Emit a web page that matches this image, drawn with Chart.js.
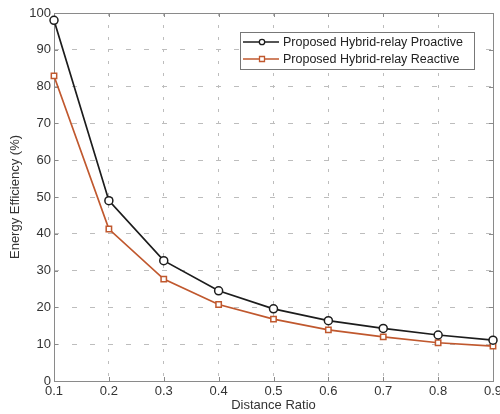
<!DOCTYPE html>
<html>
<head>
<meta charset="utf-8">
<script src="https://cdn.jsdelivr.net/npm/chart.js@4.4.1/dist/chart.umd.min.js"></script>
<style>
  html, body { margin: 0; padding: 0; background: #fff; }
  #wrap { width: 500px; height: 414px; }
</style>
</head>
<body>
<div id="wrap"><canvas id="c" width="500" height="414"></canvas></div>
<script>
// values
const distanceRatio = [0.1, 0.2, 0.3, 0.4, 0.5, 0.6, 0.7, 0.8, 0.9];
const proactive = [98.0, 49.0, 32.7, 24.5, 19.6, 16.4, 14.3, 12.5, 11.1];
const reactive = [82.9, 41.3, 27.7, 20.8, 16.8, 13.9, 12.0, 10.4, 9.5];
const seriesNames = ["Proposed Hybrid-relay Proactive", "Proposed Hybrid-relay Reactive"];
const yTicks = [0, 10, 20, 30, 40, 50, 60, 70, 80, 90, 100];

const FONT = "'Liberation Sans', Arial, sans-serif";
const AXIS_GRAY = "#8a8a8a";

function pts(ys) {
    return distanceRatio.map((x, i) => ({ x: x, y: ys[i] }));
}

// frame box + inward tick marks, like the MATLAB axes
const framePlugin = {
    id: "frame",
    beforeDatasetsDraw(chart) {
        const { ctx, chartArea: a, scales } = chart;
        ctx.save();
        ctx.strokeStyle = AXIS_GRAY;
        ctx.lineWidth = 1;
        ctx.strokeRect(a.left + 0.5, a.top + 0.5, a.right - a.left, a.bottom - a.top);
        ctx.beginPath();
        distanceRatio.forEach(v => {
            const px = Math.round(scales.x.getPixelForValue(v)) + 0.5;
            ctx.moveTo(px, a.bottom); ctx.lineTo(px, a.bottom - 4);
            ctx.moveTo(px, a.top); ctx.lineTo(px, a.top + 4);
        });
        yTicks.forEach(v => {
            const py = Math.round(scales.y.getPixelForValue(v)) + 0.5;
            ctx.moveTo(a.left, py); ctx.lineTo(a.left + 4, py);
            ctx.moveTo(a.right, py); ctx.lineTo(a.right - 4, py);
        });
        ctx.stroke();
        ctx.restore();
    }
};

// boxed legend in the upper right
const boxLegend = {
    id: "boxLegend",
    afterDraw(chart) {
        const ctx = chart.ctx;
        const x0 = 240, y0 = 32, w = 234, h = 37;
        ctx.save();
        ctx.fillStyle = "#fff";
        ctx.fillRect(x0, y0, w, h);
        ctx.strokeStyle = "#777";
        ctx.lineWidth = 1;
        ctx.strokeRect(x0 + 0.5, y0 + 0.5, w, h);
        chart.data.datasets.forEach((ds, i) => {
            const y = y0 + 10 + i * 17;
            ctx.strokeStyle = ds.borderColor;
            ctx.lineWidth = 1.5;
            ctx.beginPath();
            ctx.moveTo(x0 + 3, y); ctx.lineTo(x0 + 39, y);
            ctx.stroke();
            ctx.fillStyle = "#fff";
            ctx.lineWidth = 1.3;
            ctx.beginPath();
            if (ds.pointStyle === "rect") {
                ctx.rect(x0 + 19.5, y - 2.5, 5, 5);
            } else {
                ctx.arc(x0 + 22, y, 2.7, 0, Math.PI * 2);
            }
            ctx.fill();
            ctx.stroke();
            ctx.fillStyle = "#222";
            ctx.font = "12.5px " + FONT;
            ctx.textBaseline = "middle";
            ctx.fillText(ds.label, x0 + 43, y + 0.5);
        });
        ctx.restore();
    }
};

new Chart(document.getElementById("c"), {
    type: "line",
    data: {
        datasets: [
            {
                label: seriesNames[0],
                data: pts(proactive),
                borderColor: "#1c1c1c",
                backgroundColor: "#fff",
                borderWidth: 1.7,
                pointStyle: "circle",
                pointRadius: 4,
                pointBorderWidth: 1.5,
                tension: 0,
                clip: false
            },
            {
                label: seriesNames[1],
                data: pts(reactive),
                borderColor: "#c0582e",
                backgroundColor: "#fff",
                borderWidth: 1.7,
                pointStyle: "rect",
                pointRadius: 3.8,
                pointBorderWidth: 1.5,
                tension: 0,
                clip: false
            }
        ]
    },
    options: {
        responsive: false,
        animation: false,
        layout: { padding: { left: 0, right: 7, top: 13, bottom: 0 } },
        plugins: { legend: { display: false }, tooltip: { enabled: false } },
        scales: {
            x: {
                type: "linear",
                min: 0.1,
                max: 0.9,
                afterFit(scale) { scale.paddingRight = 0; scale.paddingLeft = 0; scale.height = 33; },
                afterBuildTicks(scale) { scale.ticks = distanceRatio.map(v => ({ value: v })); },
                border: { display: false, dash: [3, 9] },
                grid: {
                    color: "#bdbdbd",
                    lineWidth: 1,
                    drawTicks: false
                },
                ticks: {
                    color: "#333",
                    padding: 3,
                    maxRotation: 0,
                    autoSkip: false,
                    font: { family: FONT, size: 13 },
                    callback: v => v.toFixed(1)
                },
                title: {
                    display: true,
                    text: "Distance Ratio",
                    color: "#333",
                    padding: { top: 0, bottom: 1 },
                    font: { family: FONT, size: 13 }
                }
            },
            y: {
                min: 0,
                max: 100,
                afterFit(scale) { scale.paddingTop = 0; scale.paddingBottom = 0; scale.width = 54; },
                afterBuildTicks(scale) { scale.ticks = yTicks.map(v => ({ value: v })); },
                border: { display: false, dash: [5, 13] },
                grid: {
                    color: "#bdbdbd",
                    lineWidth: 1,
                    drawTicks: false
                },
                ticks: {
                    color: "#333",
                    padding: 3,
                    font: { family: FONT, size: 13 }
                },
                title: {
                    display: true,
                    text: "Energy Efficiency (%)",
                    color: "#333",
                    padding: { top: 8, bottom: 0 },
                    font: { family: FONT, size: 13 }
                }
            }
        }
    },
    plugins: [framePlugin, boxLegend]
});
</script>
</body>
</html>
